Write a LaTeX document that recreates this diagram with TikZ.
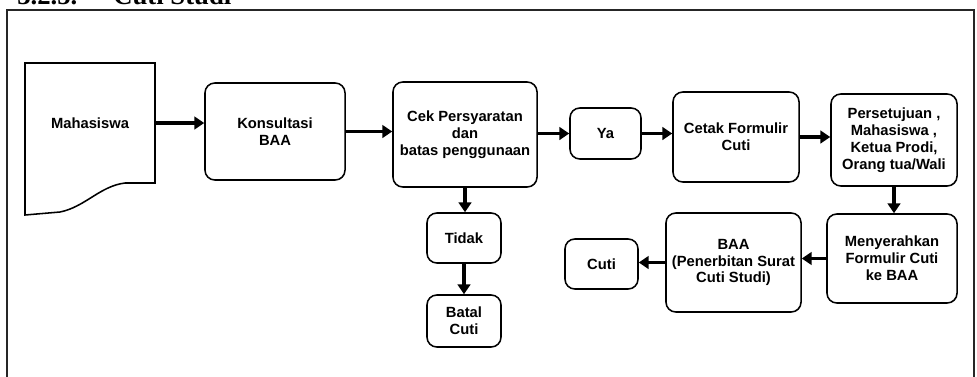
\documentclass[tikz,border=0pt]{standalone}
\usepackage{fontspec}
\setmainfont{Liberation Serif}
\setsansfont{Liberation Sans}
\usetikzlibrary{arrows.meta}

\begin{document}
\begin{tikzpicture}[x=0.025cm,y=-0.025cm,
  box/.style={shape=rectangle,draw=black,rounded corners=7pt,align=center,line width=1.1pt,inner sep=2pt,font=\sffamily\bfseries\fontsize{10.5}{12}\selectfont},
  arr/.style={-{Triangle[length=7pt,width=9pt]},draw=black,line width=2.2pt}]
\useasboundingbox (0,0) rectangle (977,376);
\clip (0,0) rectangle (977,376);
\draw[line width=1.8pt,draw=black!85] (7,10) rectangle (974,400);
\node[anchor=base west,inner sep=0pt,font=\bfseries\fontsize{19}{22}\selectfont] (sec) at (17,4) {3.2.5.};
\node[anchor=base west,inner sep=0pt,font=\bfseries\fontsize{19}{22}\selectfont] (ttl) at (113,4) {Cuti Studi};

\node[shape=rectangle,align=center,inner sep=2pt,minimum width=3.25cm,minimum height=3cm,font=\sffamily\bfseries\fontsize{10.5}{12}\selectfont] (mhs) at (90,123) {Mahasiswa};
\draw[line width=1.1pt] (155,183) -- (155,63) -- (25,63) -- (25,215) -- (60,212)
  .. controls (85,207) and (100,186) .. (125,183) -- cycle;
\node[box,minimum width=3.5cm,minimum height=2.425cm] (kons) at (275,131.5) {Konsultasi\\BAA};
\node[box,minimum width=3.6cm,minimum height=2.625cm] (cek) at (465,134.5) {Cek Persyaratan\\dan\\batas penggunaan};
\node[box,minimum width=1.775cm,minimum height=1.275cm] (ya) at (605.5,133.5) {Ya};
\node[box,minimum width=3.15cm,minimum height=2.25cm] (cetak) at (736,137) {Cetak Formulir\\Cuti};
\node[box,minimum width=3.15cm,minimum height=2.3cm] (setuju) at (894,140) {Persetujuan ,\\Mahasiswa ,\\Ketua Prodi,\\Orang tua/Wali};
\node[box,minimum width=3.25cm,minimum height=2.225cm] (serah) at (892,258.5) {Menyerahkan\\Formulir Cuti\\ke BAA};
\node[box,minimum width=3.375cm,minimum height=2.475cm] (baa) at (733.5,262.5) {BAA\\(Penerbitan Surat\\Cuti Studi)};
\node[box,minimum width=1.825cm,minimum height=1.25cm] (cuti) at (601.5,264) {Cuti};
\node[box,minimum width=1.85cm,minimum height=1.25cm] (tidak) at (464,238) {Tidak};
\node[box,minimum width=1.85cm,minimum height=1.3cm] (batal) at (464,321) {Batal\\Cuti};

\path (mhs.east) edge[arr] (mhs.east -| kons.west);
\path (kons.east) edge[arr] (kons.east -| cek.west);
\path (ya.west -| cek.east) edge[arr] (ya.west);
\path (ya.east) edge[arr] (ya.east -| cetak.west);
\path (cetak.east) edge[arr] (cetak.east -| setuju.west);
\path (setuju.south) edge[arr] (setuju.south |- serah.north);
\path (serah.west) edge[arr] (serah.west -| baa.east);
\path (baa.west) edge[arr] (baa.west -| cuti.east);
\path (cek.south) edge[arr] (cek.south |- tidak.north);
\path (tidak.south) edge[arr] (batal.north);
\end{tikzpicture}
\end{document}
